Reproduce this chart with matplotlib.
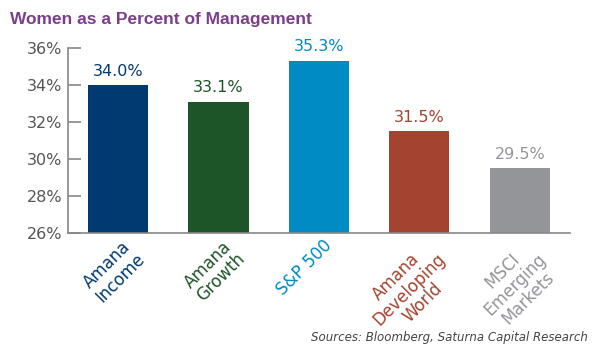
import matplotlib.pyplot as plt

categories = ["Amana\nIncome", "Amana\nGrowth", "S&P 500", "Amana\nDeveloping\nWorld", "MSCI\nEmerging\nMarkets"]
values = [34.0, 33.1, 35.3, 31.5, 29.5]
colors = ["#003a70", "#1d5428", "#008bc4", "#a4432f", "#939598"]
yticks = [26, 28, 30, 32, 34, 36]

fig = plt.figure(figsize=(5.94, 3.52), dpi=100)
ax = fig.add_axes([0.1145, 0.338, 0.845, 0.5256])

x = list(range(len(values)))
ax.bar(x, [v - 26 for v in values], bottom=26, width=0.6, color=colors, zorder=2)

for xi, v, c in zip(x, values, colors):
    ax.text(xi, v + 0.35, f"{v:.1f}%", ha="center", va="bottom", color=c, fontsize=11.5)

ax.set_xlim(-0.5, 4.5)
ax.set_ylim(26, 36)
ax.set_yticks(yticks)
ax.set_yticklabels([f"{t}%" for t in yticks], fontsize=11.5, color="#555555")
ax.tick_params(axis="y", direction="in", length=9, width=1.2, color="#888888", pad=4)
ax.set_xticks([])

for s in ["top", "right"]:
    ax.spines[s].set_visible(False)
for s in ["left", "bottom"]:
    ax.spines[s].set_color("#888888")
    ax.spines[s].set_linewidth(1.2)

# rotated category labels, coloured like the bars
for xi, lab, c in zip(x, categories, colors):
    ax.text(xi + 0.04, 25.8, lab, rotation=45, ha="right", va="top", rotation_mode="anchor",
            multialignment="center", color=c, fontsize=12, linespacing=1.05)

fig.text(0.017, 0.945, "Women as a Percent of Management", color="#7a3e8a", fontsize=12.5,
         fontweight="bold", family=["Liberation Sans", "DejaVu Sans"], va="center")
fig.text(0.99, 0.04, "Sources: Bloomberg, Saturna Capital Research", color="#444444",
         fontsize=8.5, style="italic", ha="right", va="center")

fig.savefig("out.png", dpi=100)
